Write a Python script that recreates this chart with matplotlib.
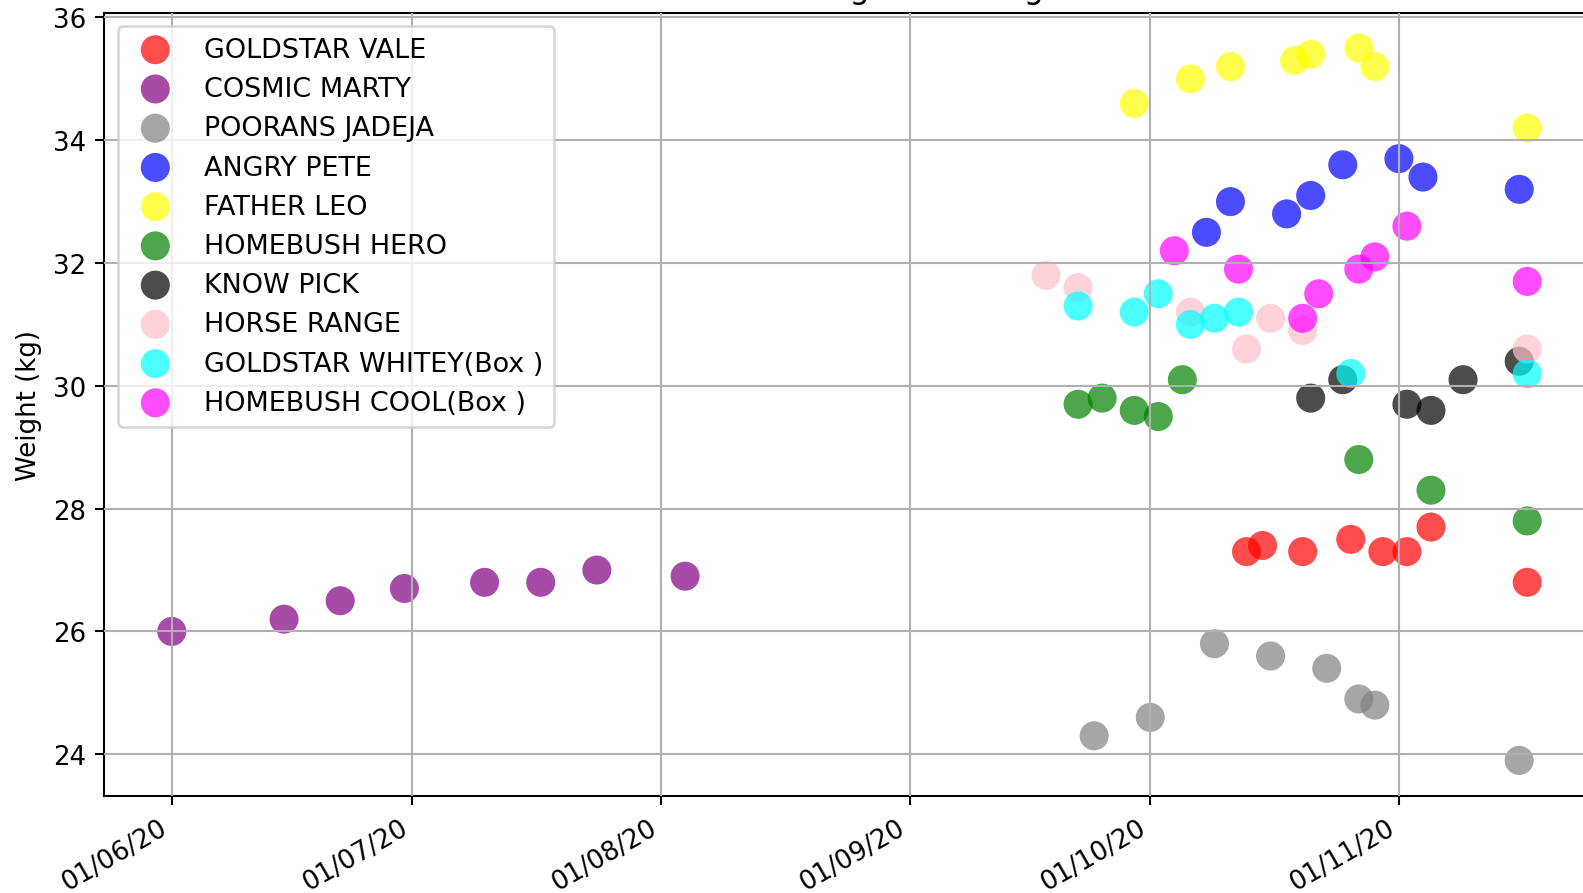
import matplotlib
matplotlib.use("Agg")
import matplotlib.pyplot as plt
import matplotlib.dates as mdates
import pandas as pd

DPI = 187
W_PX, H_PX = 1583, 894

names = ["GOLDSTAR VALE", "COSMIC MARTY", "POORANS JADEJA", "ANGRY PETE",
         "FATHER LEO", "HOMEBUSH HERO", "KNOW PICK", "HORSE RANGE",
         "GOLDSTAR WHITEY(Box )", "HOMEBUSH COOL(Box )"]
colors = ["red", "purple", "gray", "blue", "yellow", "green", "black",
          "pink", "cyan", "magenta"]

vale_dates = ["2020-10-13", "2020-10-15", "2020-10-20", "2020-10-26", "2020-10-30", "2020-11-02", "2020-11-05", "2020-11-17"]
vale_w = [27.3, 27.4, 27.3, 27.5, 27.3, 27.3, 27.7, 26.8]

marty_dates = ["2020-06-01", "2020-06-15", "2020-06-22", "2020-06-30", "2020-07-10", "2020-07-17", "2020-07-24", "2020-08-04"]
marty_w = [26.0, 26.2, 26.5, 26.7, 26.8, 26.8, 27.0, 26.9]

jadeja_dates = ["2020-09-24", "2020-10-01", "2020-10-09", "2020-10-16", "2020-10-23", "2020-10-27", "2020-10-29", "2020-11-16"]
jadeja_w = [24.3, 24.6, 25.8, 25.6, 25.4, 24.9, 24.8, 23.9]

pete_dates = ["2020-10-08", "2020-10-11", "2020-10-18", "2020-10-21", "2020-10-25", "2020-11-01", "2020-11-04", "2020-11-16"]
pete_w = [32.5, 33.0, 32.8, 33.1, 33.6, 33.7, 33.4, 33.2]

leo_dates = ["2020-09-29", "2020-10-06", "2020-10-11", "2020-10-19", "2020-10-21", "2020-10-27", "2020-10-29", "2020-11-17"]
leo_w = [34.6, 35.0, 35.2, 35.3, 35.4, 35.5, 35.2, 34.2]

hero_dates = ["2020-09-22", "2020-09-25", "2020-09-29", "2020-10-02", "2020-10-05", "2020-10-27", "2020-11-05", "2020-11-17"]
hero_w = [29.7, 29.8, 29.6, 29.5, 30.1, 28.8, 28.3, 27.8]

pick_dates = ["2020-10-21", "2020-10-25", "2020-11-02", "2020-11-05", "2020-11-09", "2020-11-16"]
pick_w = [29.8, 30.1, 29.7, 29.6, 30.1, 30.4]

range_dates = ["2020-09-18", "2020-09-22", "2020-10-06", "2020-10-13", "2020-10-16", "2020-10-20", "2020-11-17"]
range_w = [31.8, 31.6, 31.2, 30.6, 31.1, 30.9, 30.6]

whitey_dates = ["2020-09-22", "2020-09-29", "2020-10-02", "2020-10-06", "2020-10-09", "2020-10-12", "2020-10-26", "2020-11-17"]
whitey_w = [31.3, 31.2, 31.5, 31.0, 31.1, 31.2, 30.2, 30.2]

cool_dates = ["2020-10-04", "2020-10-12", "2020-10-20", "2020-10-22", "2020-10-27", "2020-10-29", "2020-11-02", "2020-11-17"]
cool_w = [32.2, 31.9, 31.1, 31.5, 31.9, 32.1, 32.6, 31.7]

all_dates = [vale_dates, marty_dates, jadeja_dates, pete_dates, leo_dates,
             hero_dates, pick_dates, range_dates, whitey_dates, cool_dates]
all_w = [vale_w, marty_w, jadeja_w, pete_w, leo_w, hero_w, pick_w,
         range_w, whitey_w, cool_w]

title = "Hounds Weight Tracking"
ylabel = "Weight (kg)"

fig = plt.figure(figsize=(W_PX / DPI, H_PX / DPI), dpi=DPI)
ax = fig.add_axes([104 / W_PX, 97 / H_PX, 1491 / W_PX, 783.5 / H_PX])

for name, col, d, w in zip(names, colors, all_dates, all_w):
    ax.scatter(pd.to_datetime(d), w, s=125, c=col, alpha=0.7, label=name,
               edgecolors="none")

ax.xaxis.set_major_locator(mdates.MonthLocator())
ax.xaxis.set_major_formatter(mdates.DateFormatter("%d/%m/%y"))
for lab in ax.get_xticklabels():
    lab.set_rotation(30)
    lab.set_ha("right")

ax.grid(True)
ax.set_axisbelow(False)
ax.set_ylabel(ylabel)
ax.set_title(title, fontsize=12.2, x=0.502)
ax.legend(loc="upper left", fontsize=10.4, labelspacing=0.49)

fig.savefig("out.png", dpi=DPI)
